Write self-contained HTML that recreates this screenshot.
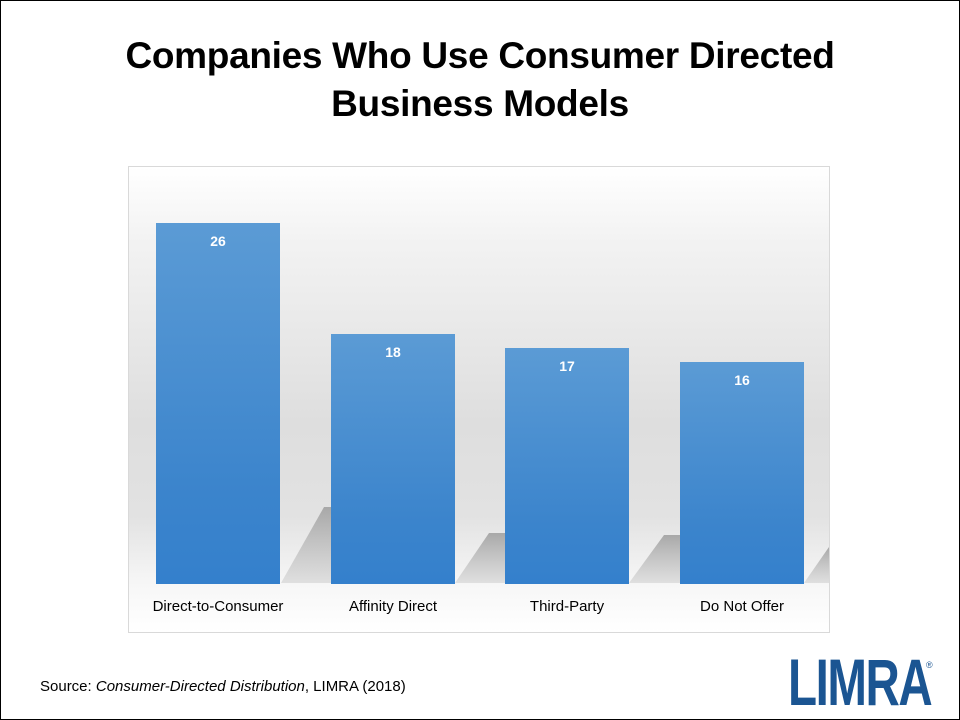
<!DOCTYPE html>
<html><head><style>
html,body{margin:0;padding:0}
body{width:960px;height:720px;position:relative;background:#fff;font-family:"Liberation Sans",sans-serif;overflow:hidden}
.frame{position:absolute;left:0;top:0;width:958px;height:718px;border:1px solid #000}
.title{position:absolute;left:0;width:960px;top:32px;text-align:center;font-size:37px;font-weight:bold;line-height:48px;color:#000;letter-spacing:-0.3px}
.chart{position:absolute;left:128px;top:166px;width:700px;height:465px;border:1px solid #d9d9d9;
background:linear-gradient(to bottom,#ffffff 0%,#f3f3f3 15%,#dedede 55%,#e2e2e2 75%,#f7f7f7 90%,#fff 100%);overflow:hidden}
.bar{position:absolute;bottom:48px;width:124px;background:linear-gradient(to bottom,#5b9bd5,#3b84cc 75%,#3480cc);color:#fff;font-weight:bold;font-size:14px;text-align:center}
.bar span{display:block;margin-top:10px}
.lab{position:absolute;top:431px;width:176px;text-align:center;font-size:15px;color:#000}
.src{position:absolute;left:40px;top:678px;font-size:15px;color:#000}
.logo{position:absolute;left:788px;top:649px;font-size:66px;font-weight:bold;color:#1b5592;transform:scaleX(0.72);transform-origin:left;letter-spacing:-2px;line-height:66px}
</style></head><body>
<div class="frame"></div>
<div class="title">Companies Who Use Consumer Directed<br>Business Models</div>
<div class="chart">
<svg width="700" height="465" style="position:absolute;left:0;top:0">
<defs><linearGradient id="s" x1="0" y1="0" x2="0" y2="1"><stop offset="0" stop-color="#a8a8a8"/><stop offset="1" stop-color="#c8c8c8" stop-opacity="0.5"/></linearGradient></defs>
<polygon points="152,416 195,340 290,340 290,416" fill="url(#s)"/>
<polygon points="326,416 360,366 470,366 470,416" fill="url(#s)"/>
<polygon points="500,416 535,368 645,368 645,416" fill="url(#s)"/>
<polygon points="675,416 700,380 700,416" fill="url(#s)"/>
</svg>
<div class="bar" style="left:27px;height:361px"><span>26</span></div>
<div class="bar" style="left:202px;height:250px"><span>18</span></div>
<div class="bar" style="left:376px;height:236px"><span>17</span></div>
<div class="bar" style="left:551px;height:222px"><span>16</span></div>
<div class="lab" style="left:1px">Direct-to-Consumer</div>
<div class="lab" style="left:176px">Affinity Direct</div>
<div class="lab" style="left:350px">Third-Party</div>
<div class="lab" style="left:525px">Do Not Offer</div>
</div>
<div class="src">Source: <i>Consumer-Directed Distribution</i>, LIMRA (2018)</div>
<div class="logo">LIMRA</div>
<div style="position:absolute;left:926px;top:660px;font-size:9px;color:#1b5592">®</div>
</body></html>
